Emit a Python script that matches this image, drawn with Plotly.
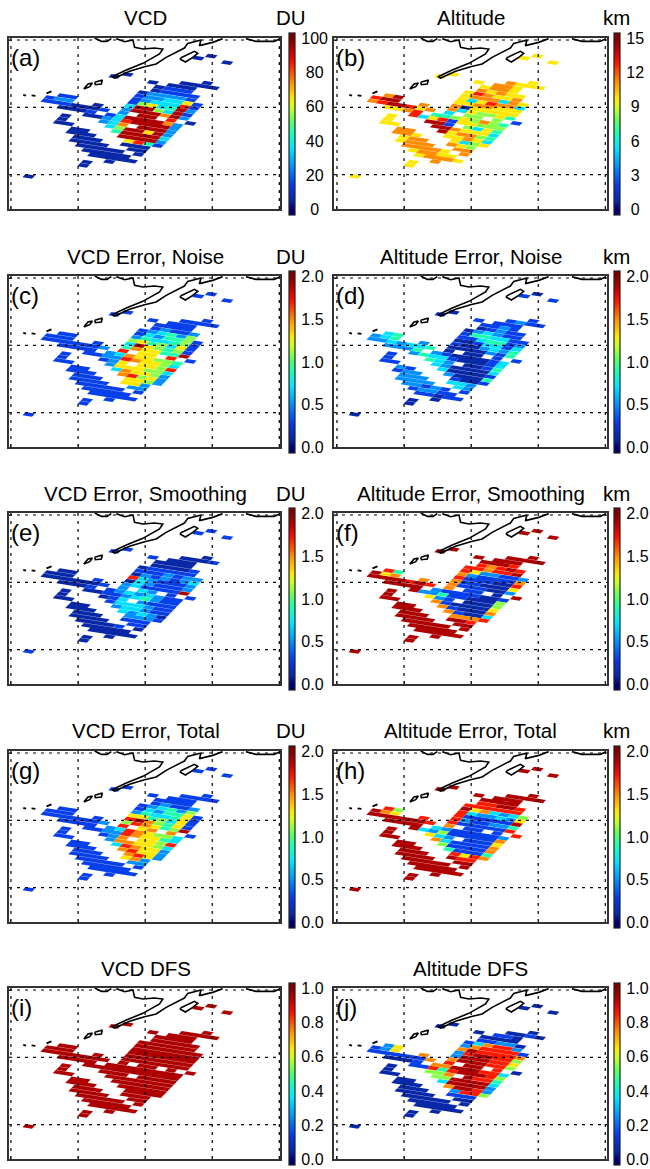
import plotly.graph_objects as go
from plotly.colors import sample_colorscale

W, H = 650, 1169

# Footprint layout: swath row -> columns holding a retrieval
ROW_IDS = [5, 6, 12, 13, 14, 15, 16, 17, 18, 19, 20, 21, 22, 23, 24, 25, 26, 27, 28, 29, 30, 31, 32, 33, 34, 35, 36, 37, 38, 43]
ROW_COLS = [
    [24], [23, 26], [26], [18, 24, 25, 26, 27], [17, 21, 23, 24, 25], [22, 23, 24, 25],
    [22, 23, 24, 25, 26], [21, 22, 23, 24, 25, 26], [21, 22, 23, 24, 25, 26, 27],
    [21, 22, 23, 24, 25, 26, 27], [21, 22, 23, 24, 25, 26, 27],
    [14, 15, 21, 22, 23, 24, 25, 26, 27], [13, 14, 15, 18, 21, 22, 23, 24, 25, 26, 27],
    [13, 14, 15, 16, 17, 18, 19, 21, 23, 24, 26, 28], [15, 16, 17, 18, 20, 21, 22, 23, 24, 25, 26, 27],
    [18, 19, 20, 21, 22, 23, 24, 25, 26, 27], [16, 20, 21, 22, 24, 25, 26, 27],
    [16, 21, 22, 23, 24, 25, 26, 27], [16, 17, 22, 23, 24, 25, 26, 27], [18, 19, 23, 24, 25, 26, 27],
    [18, 19, 20, 24, 25, 26, 27], [19, 20, 21, 24, 25, 26], [19, 20, 21, 22, 25, 26],
    [20, 21, 22, 23, 24, 26], [21, 22, 23, 24, 25], [22, 23, 24, 25, 26], [24], [22], [22], [18],
]

# Values per swath row, one digit per footprint (tenths of the panel's colour range)
VCD = ["0", "00", "0", "00000", "00000", "0111", "01111", "022221", "1223361", "1233381", "1563492",
       "113995391", "12202999792", "111000129980", "000113999972", "0023899992", "02379992",
       "03599692", "00499993", "0099992", "0006841", "000000", "000000", "000000", "00000", "00000",
       "0", "0", "0", "0"]
ALTITUDE = ["6", "66", "6", "67666", "66776", "6776", "76766", "687667", "6777376", "6368773", "6677666",
            "797066666", "89977365564", "789986735551", "667844565754", "8368166555", "69915364",
            "69976663", "66967754", "7766763", "7766356", "677765", "677777", "777767", "67766", "67776",
            "7", "6", "6", "6"]
VCD_ERR_NOISE = ["1", "11", "1", "11111", "11111", "1111", "12112", "123425", "1324451", "2433451", "5645361",
                 "113965451", "11114766449", "111111286681", "111123766554", "1122876653", "11266658",
                 "12666553", "11376652", "1178562", "1116652", "111662", "111122", "111111", "11111", "11111",
                 "1", "1", "1", "1"]
ALT_ERR_NOISE = ["0", "11", "1", "01211", "11111", "1121", "01211", "023211", "1443311", "1134412", "0013313",
                 "341002324", "23420000214", "223233400011", "222421000013", "2433100013", "14320014",
                 "13200003", "11300001", "2120004", "1221001", "222332", "222232", "221211", "12211", "11011",
                 "0", "0", "0", "0"]
VCD_ERR_SMOOTH = ["1", "11", "0", "10001", "11000", "0000", "00001", "011111", "1112122", "0212123", "8321112",
                  "000321112", "00012311119", "000000123211", "000112323211", "0011234211", "00132111",
                  "01333211", "00233211", "0032320", "0002221", "000111", "000011", "000010", "00000", "00000",
                  "0", "0", "0", "1"]
ALT_ERR_SMOOTH = ["9", "99", "9", "99999", "99999", "9998", "87898", "887889", "8622112", "7211117", "8111008",
                  "847110006", "96777111002", "999989871109", "999921111001", "9224110005", "96210005",
                  "97100006", "99710007", "9971003", "9997778", "999998", "999999", "999999", "99999", "99999",
                  "9", "9", "9", "9"]
VCD_ERR_TOTAL = ["1", "11", "1", "11111", "11111", "1111", "12112", "123425", "1324461", "2433461", "6645361",
                 "118975461", "11115876459", "111111286771", "111123876553", "1122876643", "11276658",
                 "12776653", "11387662", "1178662", "1117862", "111672", "111122", "111111", "11111", "11111",
                 "1", "1", "1", "1"]
ALT_ERR_TOTAL = ["9", "99", "9", "99999", "99999", "9999", "88998", "888888", "9673235", "8322326", "8111119",
                 "858211224", "97688111118", "999999871118", "999932111112", "9325111117", "96321116",
                 "97311117", "99511117", "9941114", "9998687", "999988", "999999", "999999", "99999", "99999",
                 "9", "9", "9", "9"]
VCD_DFS = ["9", "99", "9", "99999", "99999", "9999", "99999", "999999", "9999999", "9999999", "9999999",
           "999999999", "99999999999", "999999999999", "999999999999", "9999999999", "99999999",
           "99999999", "99999999", "9999999", "9999999", "999999", "999999", "999999", "99999", "99999",
           "9", "9", "9", "9"]
ALT_DFS = ["0", "00", "0", "00010", "00110", "0000", "11220", "137882", "2788881", "7988887", "2899885",
           "262999886", "12677999885", "111111789980", "000177999883", "1184899985", "05579884",
           "05599993", "00399992", "0079982", "0002885", "000111", "000000", "000000", "00000", "00000",
           "0", "0", "0", "0"]

# Coastline (lon, lat)
COAST_WEST_LON = [192.48, 193.47, 194.31, 194.96]
COAST_WEST_LAT = [70.30, 69.80, 69.80, 70.20]
COAST_MAIN_LON = [195.70, 196.94, 198.18, 198.43, 199.66, 201.40, 202.63, 202.14, 199.66, 197.19, 195.06, 195.45,
                  197.68, 199.91, 201.64, 203.13, 205.85, 206.35, 208.33, 208.08, 210.07, 211.55]
COAST_MAIN_LAT = [70.20, 69.75, 70.00, 68.91, 68.66, 68.81, 68.66, 67.92, 66.53, 65.54, 64.55, 64.35,
                  65.34, 66.04, 66.43, 67.42, 68.81, 69.50, 70.00, 69.16, 69.65, 70.20]
COAST_EAST_LON = [215.02, 216.50, 219.23, 219.97]
COAST_EAST_LAT = [70.20, 69.80, 69.80, 70.10]
ISLE_A_LON = [205.26, 207.34, 207.84, 207.09, 206.00, 205.26, 205.26]
ISLE_A_LAT = [67.33, 68.32, 68.02, 67.42, 66.73, 67.13, 67.33]
ISLE_B_LON = [190.85, 191.49, 192.13, 191.74, 190.85]
ISLE_B_LAT = [62.72, 63.46, 63.61, 63.06, 62.72]
ISLE_C_LON = [192.48, 193.62, 193.47, 192.58, 192.48]
ISLE_C_LAT = [63.71, 64.05, 63.46, 63.36, 63.71]
ISLET_LON = [[181.83, 182.25], [183.07, 183.65], [185.30, 186.04]]
ISLET_LAT = [[61.83, 61.72], [61.78, 61.70], [62.07, 62.37]]

GRID_LON = [180, 190, 200, 210, 220]
GRID_LAT = [50, 60, 70]

NB = "\u00a0"
PANELS = [
    ("VCD", "(a)", VCD, 100, "DU", [100, 80, 60, 40, 20, 0], ["100", NB + "80", NB + "60", NB + "40", NB + "20", NB + NB + "0"]),
    ("Altitude", "(b)", ALTITUDE, 15, "km", [15, 12, 9, 6, 3, 0], ["15", "12", NB + "9", NB + "6", NB + "3", NB + "0"]),
    ("VCD Error, Noise", "(c)", VCD_ERR_NOISE, 2, "DU", [2, 1.5, 1, .5, 0], ["2.0", "1.5", "1.0", "0.5", "0.0"]),
    ("Altitude Error, Noise", "(d)", ALT_ERR_NOISE, 2, "km", [2, 1.5, 1, .5, 0], ["2.0", "1.5", "1.0", "0.5", "0.0"]),
    ("VCD Error, Smoothing", "(e)", VCD_ERR_SMOOTH, 2, "DU", [2, 1.5, 1, .5, 0], ["2.0", "1.5", "1.0", "0.5", "0.0"]),
    ("Altitude Error, Smoothing", "(f)", ALT_ERR_SMOOTH, 2, "km", [2, 1.5, 1, .5, 0], ["2.0", "1.5", "1.0", "0.5", "0.0"]),
    ("VCD Error, Total", "(g)", VCD_ERR_TOTAL, 2, "DU", [2, 1.5, 1, .5, 0], ["2.0", "1.5", "1.0", "0.5", "0.0"]),
    ("Altitude Error, Total", "(h)", ALT_ERR_TOTAL, 2, "km", [2, 1.5, 1, .5, 0], ["2.0", "1.5", "1.0", "0.5", "0.0"]),
    ("VCD DFS", "(i)", VCD_DFS, 1, "", [1, .8, .6, .4, .2, 0], ["1.0", "0.8", "0.6", "0.4", "0.2", "0.0"]),
    ("Altitude DFS", "(j)", ALT_DFS, 1, "", [1, .8, .6, .4, .2, 0], ["1.0", "0.8", "0.6", "0.4", "0.2", "0.0"]),
]

SCALE = [[0, "#00006e"], [.05, "#0828a8"], [.14, "#0838e8"], [.25, "#0090ff"], [.36, "#00e8ff"], [.45, "#20ffb0"],
         [.52, "#60ff60"], [.6, "#d0ff20"], [.65, "#ffe800"], [.75, "#ff8c00"], [.86, "#ff1000"], [.93, "#c00000"],
         [1, "#800000"]]
PAD = 0.032
BAR_SCALE = [[0, SCALE[0][1]]] + [[(p + PAD) / (1 + 2 * PAD), c] for p, c in SCALE] + [[1, SCALE[-1][1]]]

FONT = "Liberation Sans"
LON0, LAT0 = 178.365, 75.944
PX = 6.73


def corner(c, r):
    x_px = 9.6 * c - 3.3 * r
    y_px = 1.5 * c + 3.4 * r
    return LON0 + x_px / PX, LAT0 - y_px / PX


fig = go.Figure()
TOPS = [38, 276, 513, 751, 988]
annotations = []
layout = {}
for i, (title, tag, rows, vmax, unit, tv, tt) in enumerate(PANELS):
    row_i, col_i = i // 2, i % 2
    top = TOPS[row_i]
    bottom = top + 171
    left, right = (9, 281) if col_i == 0 else (335, 609)
    offset = 0 if col_i == 0 else 327
    n = i + 1
    xa, ya = ("x" if n == 1 else f"x{n}"), ("y" if n == 1 else f"y{n}")
    xkey, ykey = ("xaxis" if n == 1 else f"xaxis{n}"), ("yaxis" if n == 1 else f"yaxis{n}")
    lon_range = [180 + (left - offset - 11) / PX, 180 + (right - offset - 11) / PX]
    lat_range = [70 - (209 - 40) / PX, 70 - (38 - 40) / PX]
    axis_common = dict(showgrid=False, zeroline=False, showticklabels=False, ticks="inside", ticklen=3,
                       tickcolor="#222", tickwidth=1, showline=True, linecolor="#333", linewidth=1.6, mirror=True)
    layout[xkey] = dict(domain=[left / W, right / W], range=lon_range, anchor=ya, tickvals=GRID_LON, **axis_common)
    layout[ykey] = dict(domain=[1 - bottom / H, 1 - top / H], range=lat_range, anchor=xa, tickvals=GRID_LAT, **axis_common)

    # footprints, one filled trace for each colour level
    polys = {}
    for rid, cols, digits in zip(ROW_IDS, ROW_COLS, rows):
        if len(cols) != len(digits):
            raise ValueError(f"{title} row {rid}: {len(cols)} != {len(digits)}")
        for c, d in zip(cols, digits):
            px_, py_ = polys.setdefault(d, ([], []))
            for cc, rr in [(c - .4, rid + .43), (c + .6, rid + .43), (c + .6, rid + 1.37), (c - .4, rid + 1.37), (c - .4, rid + .43)]:
                lon, lat = corner(cc, rr)
                px_.append(lon)
                py_.append(lat)
            px_.append(None)
            py_.append(None)
    for d, (xs, ys) in sorted(polys.items()):
        value = (int(d) + .5) / 10 * vmax
        col = sample_colorscale(SCALE, value / vmax)[0]
        fig.add_trace(go.Scatter(x=xs, y=ys, xaxis=xa, yaxis=ya, mode="lines", fill="toself", fillcolor=col,
                                 line=dict(width=0, color=col), hoverinfo="skip", showlegend=False))

    # dotted graticule over the plume
    gx, gy = [], []
    for lon in GRID_LON:
        gx += [lon, lon, None]
        gy += [lat_range[0], lat_range[1], None]
    for lat in GRID_LAT:
        gx += [lon_range[0], lon_range[1], None]
        gy += [lat, lat, None]
    fig.add_trace(go.Scatter(x=gx, y=gy, xaxis=xa, yaxis=ya, mode="lines", hoverinfo="skip", showlegend=False,
                             line=dict(color="black", width=1.2, dash="3px,5px")))

    # coastline
    for lons, lats, w in [(COAST_WEST_LON, COAST_WEST_LAT, 1.6), (COAST_MAIN_LON, COAST_MAIN_LAT, 1.6),
                          (COAST_EAST_LON, COAST_EAST_LAT, 1.6), (ISLE_A_LON, ISLE_A_LAT, 1.6),
                          (ISLE_B_LON, ISLE_B_LAT, 1.6), (ISLE_C_LON, ISLE_C_LAT, 1.6)] + \
                         [(a, b, 1.8) for a, b in zip(ISLET_LON, ISLET_LAT)]:
        fig.add_trace(go.Scatter(x=lons, y=lats, xaxis=xa, yaxis=ya, mode="lines", hoverinfo="skip", showlegend=False,
                                 line=dict(color="black", width=w)))

    # colour bar
    bar_top, bar_bottom = top - 5, bottom + 6
    fig.add_trace(go.Scatter(
        x=[None], y=[None], xaxis=xa, yaxis=ya, mode="markers", hoverinfo="skip", showlegend=False,
        marker=dict(color=[0], cmin=-PAD * vmax, cmax=(1 + PAD) * vmax, colorscale=BAR_SCALE, showscale=True,
                    colorbar=dict(x=(290 if col_i == 0 else 616) / W, xanchor="left", xpad=0, ypad=0,
                                  y=1 - (bar_top + bar_bottom) / 2 / H, yanchor="middle",
                                  len=(bar_bottom - bar_top) / H, lenmode="fraction", thickness=6,
                                  thicknessmode="pixels", outlinecolor="#222", outlinewidth=1.2,
                                  tickmode="array", tickvals=tv, ticktext=tt, ticks="outside", ticklen=3,
                                  tickcolor="rgba(0,0,0,0)", tickfont=dict(family=FONT, size=16, color="black"))),
    ))

    centre = 146 if col_i == 0 else 472
    annotations.append(dict(text=title, x=centre / W, y=1 - (top - 20) / H, xref="paper", yref="paper", xanchor="center",
                            yanchor="middle", showarrow=False, font=dict(family=FONT, size=20.5, color="black")))
    annotations.append(dict(text=tag, x=(9 if col_i == 0 else 335) / W, y=1 - (top + 19) / H, xref="paper", yref="paper",
                            xanchor="left", yanchor="middle", showarrow=False, font=dict(family=FONT, size=24, color="black")))
    if unit:
        annotations.append(dict(text=unit, x=(292 if col_i == 0 else 618) / W, y=1 - (top - 20) / H, xref="paper", yref="paper",
                                xanchor="center", yanchor="middle", showarrow=False, font=dict(family=FONT, size=20.5, color="black")))

fig.update_layout(width=W, height=H, margin=dict(l=0, r=0, t=0, b=0), paper_bgcolor="white", plot_bgcolor="white",
                  showlegend=False, annotations=annotations, **layout)
fig.write_html("out.html", post_script="document.body.style.margin='0';", config={"displayModeBar": False})
